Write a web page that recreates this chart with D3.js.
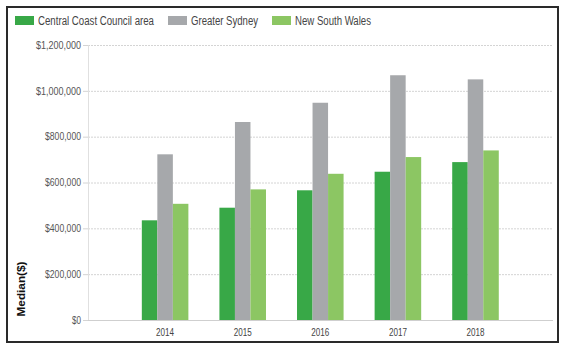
<!DOCTYPE html>
<html><head><meta charset="utf-8">
<script src="https://cdn.jsdelivr.net/npm/d3@7"></script>
<style>body{margin:0;background:#fff}svg{display:block}text{font-family:"Liberation Sans",Arial,sans-serif}</style>
</head><body>
<script>
const years = ["2014","2015","2016","2017","2018"];
const seriesNames = ["Central Coast Council area","Greater Sydney","New South Wales"];
const centralCoast = [435000, 490000, 566000, 647000, 689000];
const greaterSydney = [723000, 864000, 948000, 1068000, 1050000];
const nsw = [507000, 570000, 638000, 711000, 740000];
const yTicks = [0,200000,400000,600000,800000,1000000,1200000];
const colors = ["#38a847","#a6a8ab","#8cc663"];
const series = [centralCoast, greaterSydney, nsw];

const W=565,H=351;
const svg=d3.select("body").append("svg").attr("width",W).attr("height",H);
svg.append("rect").attr("width",W).attr("height",H).attr("fill","#fff");
svg.append("rect").attr("x",7).attr("y",7).attr("width",551).attr("height",335)
  .attr("fill","none").attr("stroke","#2a2a2a").attr("stroke-width",2);

const y=d3.scaleLinear().domain([0,1200000]).range([320,45]);
const x=d3.scaleBand().domain(years).range([126.3,514.3]).paddingInner(0.4).paddingOuter(0.2);
const xs=d3.scaleBand().domain([0,1,2]).range([0,x.bandwidth()]);
const plotL=88, plotR=553;

// gridlines
svg.append("g").selectAll("line").data(yTicks.filter(d=>d>0)).join("line")
  .attr("x1",plotL).attr("x2",plotR).attr("y1",d=>y(d)+0.5).attr("y2",d=>y(d)+0.5)
  .attr("stroke","#d4d4d4").attr("stroke-dasharray","2,1");
// y axis
const ya=svg.append("g").attr("transform",`translate(${plotL},0)`)
  .call(d3.axisLeft(y).tickValues(yTicks).tickSize(5).tickFormat(d=>"$"+d3.format(",")(d)));
ya.select(".domain").attr("stroke","#e0e0e0");
ya.selectAll(".tick line").attr("stroke","#d4d4d4");
ya.selectAll(".tick text").attr("fill","#555").attr("font-size",10).attr("x",-7)
  .attr("font-family","Liberation Sans, Arial, sans-serif")
  .each(function(){const t=this.textContent; d3.select(this).attr("textLength",t.length*4.5).attr("lengthAdjust","spacingAndGlyphs");});

// bars
const g=svg.append("g");
series.forEach((s,i)=>{
  g.selectAll(null).data(years).join("rect")
    .attr("x",(d)=>x(d)+xs(i)).attr("width",xs.bandwidth())
    .attr("y",(d,j)=>y(s[j])).attr("height",(d,j)=>y(0)-y(s[j]))
    .attr("fill",colors[i]);
});
// baseline
svg.append("line").attr("x1",plotL).attr("x2",plotR).attr("y1",320.5).attr("y2",320.5).attr("stroke","#cfcfcf");
// x axis labels
svg.append("g").selectAll("text").data(years).join("text")
  .attr("x",d=>x(d)+x.bandwidth()/2).attr("y",336).attr("text-anchor","middle")
  .attr("font-size",10).attr("fill","#444").attr("textLength",18).attr("lengthAdjust","spacingAndGlyphs").text(d=>d);

// y title
svg.append("text").attr("transform","translate(25,289) rotate(-90)").attr("text-anchor","middle")
  .attr("font-size",11.5).attr("font-weight","bold").attr("fill","#111")
  .attr("textLength",55).attr("lengthAdjust","spacingAndGlyphs").text("Median($)");

// legend
const legX=[15,168,272], txtW=[116,67,76];
const lg=svg.append("g");
seriesNames.forEach((n,i)=>{
  lg.append("rect").attr("x",legX[i]).attr("y",16).attr("width",19).attr("height",9).attr("fill",colors[i]);
  lg.append("text").attr("x",legX[i]+23).attr("y",25).attr("font-size",12).attr("fill","#444")
    .attr("textLength",txtW[i]).attr("lengthAdjust","spacingAndGlyphs").text(n);
});
</script>
</body></html>
